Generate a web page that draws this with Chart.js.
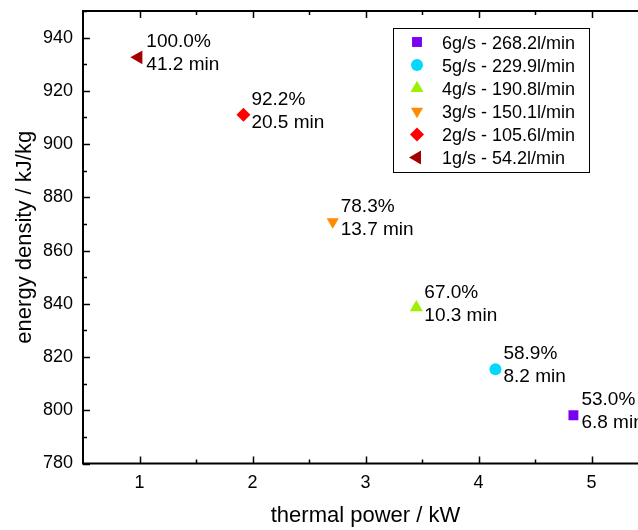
<!DOCTYPE html>
<html>
<head>
<meta charset="utf-8">
<script src="https://cdn.jsdelivr.net/npm/chart.js@4.4.0/dist/chart.umd.min.js"></script>
<style>
  html, body { margin:0; padding:0; background:#fff; overflow:hidden; }
  #wrap { width:660px; height:530px; position:relative; }
</style>
</head>
<body>
<div id="wrap"><canvas id="chart"></canvas></div>
<script>
/* ---- data ---- */
const seriesNames   = ['6g/s - 268.2l/min', '5g/s - 229.9l/min', '4g/s - 190.8l/min',
                       '3g/s - 150.1l/min', '2g/s - 105.6l/min', '1g/s - 54.2l/min'];
const thermalPower  = [4.84, 4.15, 3.45, 2.71, 1.92, 0.99];
const energyDensity = [798.1, 815.4, 838.6, 870.8, 911.0, 932.6];
const shareLabels   = ['53.0%', '58.9%', '67.0%', '78.3%', '92.2%', '100.0%'];
const timeLabels    = ['6.8 min', '8.2 min', '10.3 min', '13.7 min', '20.5 min', '41.2 min'];

const xTickValues = [1, 2, 3, 4, 5];
const xMinorTicks = [1.5, 2.5, 3.5, 4.5, 5.5];
const yTickValues = [780, 800, 820, 840, 860, 880, 900, 920, 940];
const yMinorTicks = [790, 810, 830, 850, 870, 890, 910, 930, 950];

/* ---- marker styles ---- */
const colors    = ['#7a00f2', '#00d8ff', '#9cf000', '#ff8c00', '#ff0000', '#a40000'];
const shapes    = ['rect', 'circle', 'triangle', 'triangle', 'rectRot', 'triangle'];
const rotations = [0, 0, 0, 180, 0, 270];
const radii     = [7, 6, 7.5, 7, 7, 8];

const FONT = '"Liberation Sans", Arial, sans-serif';
Chart.defaults.color = '#000';
Chart.defaults.font.family = FONT;

// frame + inward ticks on all sides
const framePlugin = {
  id: 'frame',
  afterDraw(chart) {
    const { ctx, chartArea: a, scales: { x, y } } = chart;
    ctx.save();
    ctx.strokeStyle = '#000';
    ctx.lineWidth = 1.5;
    const xt = (vals, len) => vals.forEach(v => {
      const px = Math.round(x.getPixelForValue(v)) + 0.5;
      ctx.beginPath();
      ctx.moveTo(px, a.bottom); ctx.lineTo(px, a.bottom - len);
      ctx.moveTo(px, a.top);    ctx.lineTo(px, a.top + len);
      ctx.stroke();
    });
    const yt = (vals, len) => vals.forEach(v => {
      const py = Math.round(y.getPixelForValue(v)) + 0.5;
      ctx.beginPath();
      ctx.moveTo(a.left, py);  ctx.lineTo(a.left + len, py);
      ctx.moveTo(a.right, py); ctx.lineTo(a.right - len, py);
      ctx.stroke();
    });
    xt(xTickValues, 7); xt(xMinorTicks, 4);
    yt(yTickValues, 7); yt(yMinorTicks, 4);
    ctx.lineWidth = 2;
    ctx.strokeRect(a.left, a.top, a.right - a.left, a.bottom - a.top);
    ctx.restore();
  }
};

// two-line annotation next to each point
const pointLabels = {
  id: 'pointLabels',
  afterDatasetsDraw(chart) {
    const ctx = chart.ctx;
    ctx.save();
    ctx.font = '19px ' + FONT;
    ctx.fillStyle = '#000';
    ctx.textAlign = 'left';
    ctx.textBaseline = 'alphabetic';
    chart.data.datasets.forEach((ds, i) => {
      const pt = chart.getDatasetMeta(i).data[0];
      if (!pt) return;
      ctx.fillText(shareLabels[i], pt.x + 8, pt.y - 10);
      ctx.fillText(timeLabels[i],  pt.x + 8, pt.y + 13);
    });
    ctx.restore();
  }
};

// boxed legend in the upper right
const boxLegend = {
  id: 'boxLegend',
  afterDraw(chart) {
    const ctx = chart.ctx;
    ctx.save();
    ctx.strokeStyle = '#000';
    ctx.lineWidth = 1;
    ctx.strokeRect(393.5, 28.5, 196, 144);
    ctx.font = '18px ' + FONT;
    ctx.fillStyle = '#000';
    ctx.textBaseline = 'alphabetic';
    chart.data.datasets.forEach((ds, i) => {
      const base = 48.5 + i * 23.1;
      ctx.fillStyle = ds.backgroundColor;
      Chart.helpers.drawPoint(ctx, {
        pointStyle: ds.pointStyle, rotation: ds.pointRotation,
        radius: ds.pointRadius, borderWidth: 0
      }, 417, base - 6.5);
      ctx.fillStyle = '#000';
      ctx.fillText(ds.label, 442, base);
    });
    ctx.restore();
  }
};

new Chart(document.getElementById('chart'), {
  type: 'scatter',
  data: {
    datasets: seriesNames.map((name, i) => ({
      label: name,
      data: [{ x: thermalPower[i], y: energyDensity[i] }],
      pointStyle: shapes[i],
      pointRotation: rotations[i],
      pointRadius: radii[i],
      pointHoverRadius: radii[i],
      backgroundColor: colors[i],
      borderColor: colors[i],
      borderWidth: 0,
      showLine: false,
    })),
  },
  options: {
    responsive: true, maintainAspectRatio: false, animation: false, events: [],
    layout: { padding: { top: 11, right: 12, left: 0, bottom: 0 } },
    plugins: { legend: { display: false }, tooltip: { enabled: false } },
    scales: {
      x: {
        type: 'linear', min: 0.5, max: 5.5,
        grid: { display: false, drawTicks: false },
        border: { display: false },
        afterBuildTicks: s => { s.ticks = xTickValues.map(v => ({ value: v })); },
        afterFit: s => { s.height = 66.5; s.paddingLeft = 0; s.paddingRight = 0; },
        ticks: { font: { size: 18 }, padding: 9, maxRotation: 0 },
        title: { display: true, text: 'thermal power / kW', font: { size: 22 }, padding: 1 },
      },
      y: {
        type: 'linear', min: 780, max: 950,
        grid: { display: false, drawTicks: false },
        border: { display: false },
        afterBuildTicks: s => { s.ticks = yTickValues.map(v => ({ value: v })); },
        afterFit: s => { s.width = 83; s.paddingTop = 0; s.paddingBottom = 0; },
        ticks: { font: { size: 18 }, padding: 10 },
        title: { display: true, text: 'energy density / kJ/kg', font: { size: 22 }, padding: 12 },
      },
    },
  },
  plugins: [framePlugin, pointLabels, boxLegend],
});
</script>
</body>
</html>
